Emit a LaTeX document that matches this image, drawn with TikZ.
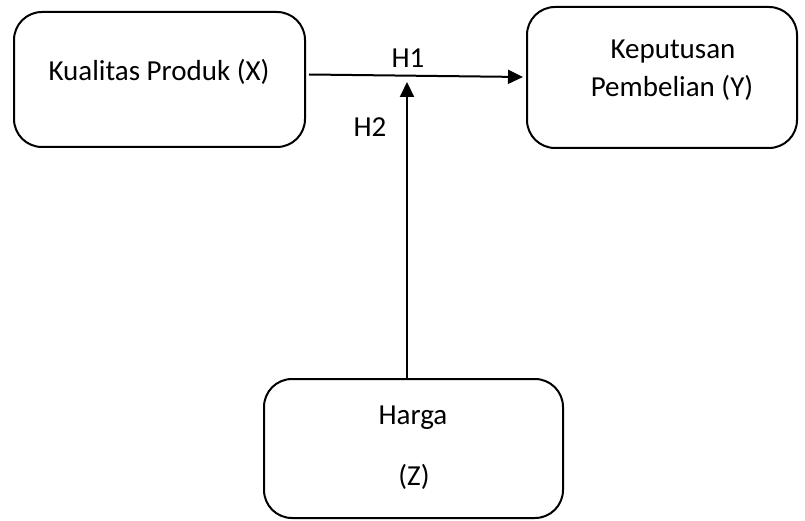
\documentclass[tikz,border=0pt]{standalone}
\usepackage{fontspec}
\setmainfont{Carlito}
\usetikzlibrary{arrows.meta,calc}
\begin{document}
\begin{tikzpicture}[x=1pt,y=-1pt,
  box/.style={draw=black,line width=2pt,rounded corners=28pt,minimum width=#1,inner sep=0pt},
  txt/.style={inner sep=0pt,font=\fontsize{29}{35}\selectfont,anchor=center},
  arr/.style={line width=2pt,-{Triangle[length=15pt,width=14pt]}}]
\useasboundingbox (0,0) rectangle (805,521);
\node[box=291pt,minimum height=135pt] (X) at (159.5,79.5) {};
\node[box=270pt,minimum height=141pt] (Y) at (662,77.5) {};
\node[box=299pt,minimum height=139pt] (Z) at (413.5,448.5) {};
\node[txt] (tx) at (159,72) {Kualitas Produk (X)};
\node[txt] (ty1) at (673,52) {Keputusan};
\node[txt] (ty2) at (672,88) {Pembelian (Y)};
\node[txt] (tz1) at (413,418) {Harga};
\node[txt] (tz2) at (414,477) {(Z)};
\node[txt] (h1) at (408,58) {H1};
\node[txt] (h2) at (370,127) {H2};
\coordinate (h2e) at (407,82);
\draw[arr] ($(X.east)+(3,-5)$) -- ($(Y.west)+(-3,-0.5)$);
\draw[arr] ($(Z.north)+(-6.5,0)$) -- (h2e);
\end{tikzpicture}
\end{document}
